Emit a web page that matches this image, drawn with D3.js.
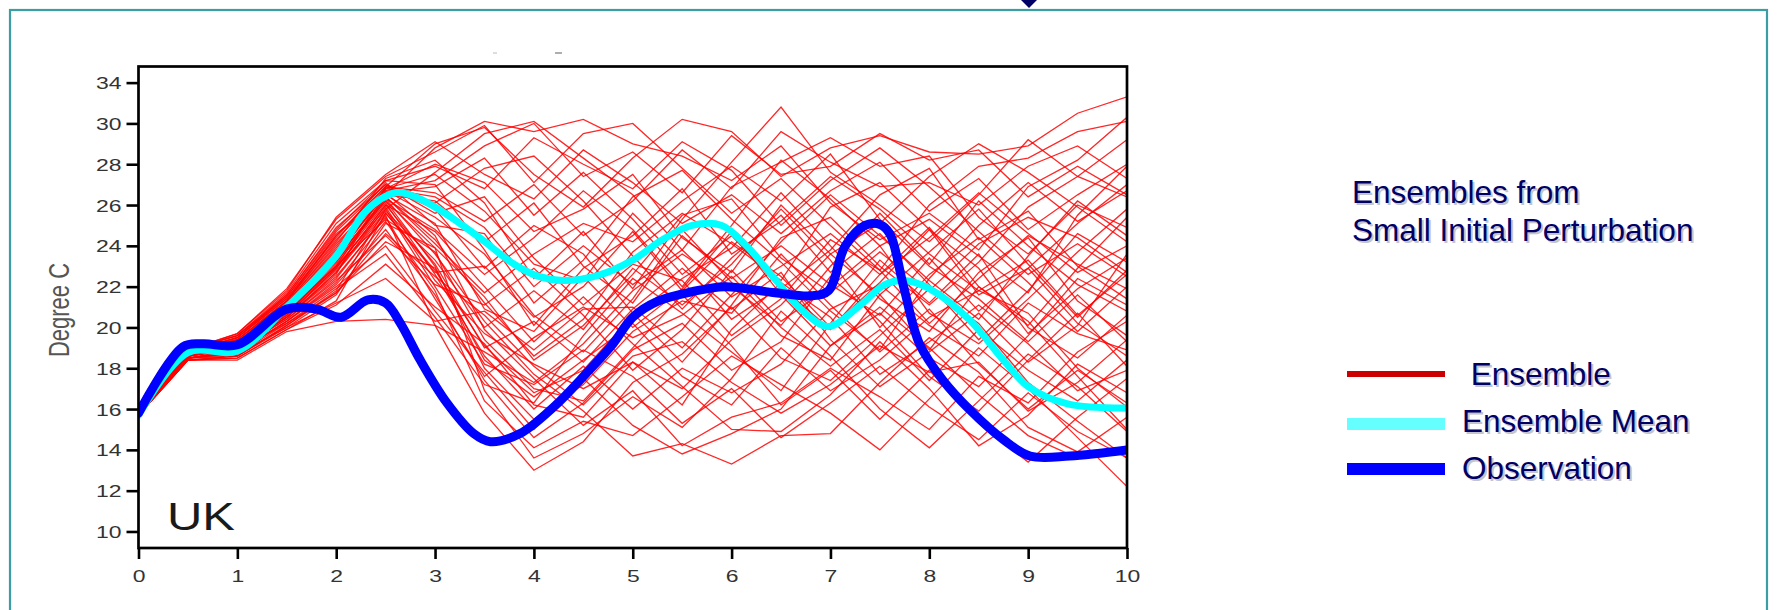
<!DOCTYPE html>
<html>
<head>
<meta charset="utf-8">
<script src="https://cdn.jsdelivr.net/npm/d3@7/dist/d3.min.js"></script>
<style>
  body { margin: 0; background: #fff; }
  svg { display: block; }
  text { white-space: pre; }
</style>
</head>
<body>
<div id="chart"></div>
<script>
// forecast steps, days
const steps = [0, 0.5, 1, 1.5, 2, 2.5, 3, 3.5, 4, 4.5, 5, 5.5, 6, 6.5, 7, 7.5, 8, 8.5, 9, 9.5, 10];

// ensemble members, one row per member (Degree C at each step)
const ensembleMembers = [
  [15.7, 18.8, 19.2, 20.8, 23.0, 26.5, 28.8, 30.1, 29.6, 30.2, 29.0, 28.4, 27.2, 28.9, 26.1, 24.3, 25.6, 23.8, 26.9, 28.2, 30.3],
  [15.7, 18.6, 18.9, 20.5, 22.6, 26.9, 29.0, 29.8, 27.5, 25.9, 28.3, 30.2, 29.6, 27.4, 28.8, 29.4, 28.6, 28.5, 28.9, 30.5, 31.3],
  [15.7, 18.7, 19.4, 21.3, 24.2, 27.3, 28.2, 26.1, 22.4, 24.7, 21.9, 25.3, 28.1, 30.8, 27.6, 26.0, 24.2, 26.5, 29.2, 27.4, 26.4],
  [15.7, 18.5, 18.6, 20.1, 21.8, 25.8, 27.6, 29.5, 30.1, 28.3, 26.5, 23.8, 26.9, 28.1, 29.3, 27.9, 28.4, 25.4, 23.6, 26.0, 24.9],
  [15.7, 18.9, 19.6, 21.5, 24.6, 26.4, 24.3, 21.2, 18.6, 20.4, 23.7, 25.6, 24.1, 22.3, 25.9, 27.1, 24.8, 21.6, 22.9, 25.1, 27.0],
  [15.7, 18.4, 18.5, 19.9, 21.3, 25.6, 22.8, 19.1, 16.8, 17.9, 20.6, 22.4, 23.9, 26.6, 24.0, 21.4, 19.8, 22.7, 24.4, 21.3, 19.6],
  [15.7, 18.7, 19.0, 20.7, 23.4, 26.2, 23.0, 18.0, 15.5, 17.2, 19.8, 21.3, 20.7, 23.6, 21.1, 18.8, 20.9, 18.2, 16.0, 17.9, 16.3],
  [15.7, 18.6, 19.3, 21.0, 23.7, 26.7, 25.4, 23.6, 20.6, 18.8, 21.4, 24.8, 22.2, 19.6, 18.4, 21.6, 23.7, 25.8, 23.1, 20.5, 22.8],
  [15.7, 18.8, 19.5, 21.6, 24.9, 27.0, 26.1, 27.8, 28.4, 26.2, 23.5, 20.9, 23.4, 25.5, 22.7, 24.6, 22.1, 19.4, 21.8, 24.6, 23.2],
  [15.7, 18.5, 18.8, 20.3, 22.1, 24.8, 21.6, 17.4, 14.6, 16.3, 18.9, 20.2, 17.9, 19.3, 22.5, 20.3, 17.6, 15.9, 18.4, 20.7, 18.1],
  [15.7, 18.9, 19.7, 21.9, 25.3, 27.4, 28.6, 29.9, 27.1, 29.5, 30.0, 27.8, 25.6, 27.3, 25.0, 22.8, 26.0, 27.9, 28.3, 29.6, 30.1],
  [15.7, 18.6, 19.1, 20.6, 22.9, 26.0, 24.7, 22.0, 19.3, 21.5, 19.2, 17.1, 15.0, 14.9, 16.7, 19.3, 17.0, 14.2, 15.7, 18.2, 16.8],
  [15.7, 18.7, 19.2, 20.9, 23.2, 26.3, 23.6, 20.3, 17.7, 15.9, 13.7, 14.3, 13.3, 14.7, 14.8, 17.3, 19.5, 17.8, 15.1, 13.9, 15.6],
  [15.7, 18.4, 18.6, 20.0, 21.6, 25.1, 23.9, 16.9, 13.6, 14.8, 16.6, 15.1, 17.5, 20.8, 18.6, 16.0, 14.1, 16.4, 18.7, 17.1, 14.9],
  [15.7, 18.8, 19.4, 21.2, 24.0, 26.8, 27.5, 25.7, 23.1, 22.3, 25.6, 23.2, 20.4, 22.0, 19.9, 22.6, 24.9, 22.0, 20.1, 22.9, 25.4],
  [15.7, 18.6, 19.0, 20.4, 22.4, 25.5, 20.1, 15.8, 13.0, 14.4, 17.3, 18.7, 21.0, 18.5, 17.4, 19.6, 21.9, 20.2, 17.3, 15.4, 13.6],
  [15.7, 18.5, 18.9, 20.2, 21.9, 23.6, 20.5, 17.2, 16.3, 19.6, 22.4, 20.7, 18.8, 16.9, 20.2, 23.3, 21.2, 23.6, 20.0, 18.5, 20.6],
  [15.7, 18.7, 19.3, 21.1, 23.8, 26.6, 26.9, 28.3, 25.5, 27.6, 25.3, 22.6, 24.5, 21.9, 23.8, 26.5, 27.8, 24.3, 25.7, 23.0, 21.4],
  [15.7, 18.8, 19.5, 21.4, 24.4, 27.1, 25.0, 24.6, 21.2, 23.3, 26.4, 27.7, 25.3, 23.2, 20.8, 18.9, 22.4, 25.0, 27.1, 25.2, 26.7],
  [15.7, 18.6, 19.0, 20.5, 22.7, 25.9, 22.3, 19.7, 18.2, 17.0, 18.3, 16.2, 19.9, 22.2, 20.5, 17.7, 19.3, 21.1, 19.2, 16.9, 17.9],
  [15.7, 18.5, 18.7, 20.0, 21.2, 22.4, 20.3, 20.8, 18.9, 20.9, 21.0, 19.0, 21.6, 24.2, 26.5, 24.5, 22.3, 20.4, 23.5, 26.2, 24.5],
  [15.7, 18.4, 18.4, 19.8, 20.3, 20.4, 20.1, 18.8, 17.3, 19.2, 21.8, 23.6, 22.0, 20.1, 23.0, 25.6, 23.1, 26.2, 24.0, 22.1, 20.8],
  [15.7, 18.9, 19.6, 21.7, 25.1, 27.2, 27.9, 26.8, 29.3, 28.0, 26.8, 29.1, 27.7, 25.0, 27.2, 28.8, 26.9, 24.7, 22.6, 24.1, 22.5],
  [15.7, 18.7, 19.2, 20.8, 23.3, 26.4, 24.1, 21.7, 23.6, 25.1, 24.2, 26.2, 27.9, 26.2, 28.5, 25.3, 23.0, 21.4, 19.3, 21.6, 19.3],
  [15.7, 18.6, 19.1, 20.7, 23.1, 26.1, 22.6, 18.6, 16.0, 18.1, 16.0, 18.0, 16.8, 18.2, 20.9, 22.1, 20.1, 18.6, 21.2, 19.7, 18.9],
  [15.7, 18.8, 19.4, 21.3, 24.5, 26.9, 25.8, 22.9, 25.0, 23.6, 20.7, 18.3, 21.1, 24.4, 25.4, 23.0, 21.1, 23.2, 25.9, 27.4, 29.2],
  [15.7, 18.5, 18.8, 20.3, 22.2, 25.2, 21.8, 16.4, 14.1, 15.4, 14.7, 16.6, 18.6, 17.2, 15.8, 14.0, 16.5, 19.0, 17.0, 14.6, 12.2],
  [15.7, 18.7, 19.3, 21.0, 23.6, 26.5, 25.1, 20.9, 19.8, 22.5, 20.0, 21.9, 24.7, 21.6, 19.1, 20.7, 18.5, 17.1, 19.6, 22.4, 21.1],
  [15.7, 18.6, 19.0, 20.6, 22.8, 25.7, 23.3, 20.0, 21.8, 19.9, 22.9, 21.1, 23.1, 25.8, 23.3, 20.0, 22.6, 24.4, 22.2, 19.8, 22.0],
  [15.7, 18.9, 19.7, 21.8, 25.4, 27.5, 29.1, 27.5, 26.3, 28.7, 27.1, 25.1, 26.5, 24.6, 26.7, 28.1, 25.7, 27.3, 24.8, 26.5, 28.0],
  [15.7, 18.7, 19.1, 20.7, 23.0, 25.3, 23.7, 19.4, 17.0, 16.4, 19.0, 21.6, 19.1, 16.2, 17.9, 15.5, 17.9, 15.3, 13.4, 15.6, 17.5],
  [15.7, 18.5, 18.9, 20.4, 22.3, 24.5, 22.1, 21.1, 22.9, 20.6, 17.9, 19.9, 22.8, 20.3, 22.0, 24.0, 20.7, 19.2, 21.4, 23.7, 25.8],
  [15.7, 18.8, 19.3, 21.1, 23.9, 26.8, 26.4, 24.9, 22.0, 24.0, 22.1, 23.8, 21.5, 23.0, 24.6, 22.6, 24.4, 26.6, 24.6, 22.7, 24.0],
  [15.7, 18.6, 19.2, 20.9, 23.5, 26.6, 24.5, 19.9, 17.5, 15.2, 16.9, 14.2, 15.6, 16.3, 18.0, 16.6, 15.0, 17.6, 16.3, 18.8, 20.3],
  [15.7, 18.4, 18.6, 20.1, 21.7, 24.2, 22.9, 18.4, 16.6, 18.4, 20.2, 17.6, 16.2, 19.0, 16.9, 18.4, 20.5, 21.8, 20.7, 18.0, 16.1],
  [15.7, 18.7, 19.3, 21.2, 24.1, 26.7, 27.2, 28.9, 30.0, 27.4, 28.6, 26.6, 29.4, 27.5, 27.9, 29.5, 28.2, 28.7, 26.4, 27.9, 26.5],
  [15.7, 18.8, 19.5, 21.5, 24.7, 27.0, 25.6, 26.4, 23.4, 21.1, 23.1, 22.3, 19.6, 21.4, 24.3, 22.8, 20.2, 22.4, 24.5, 23.1, 21.9],
  [15.7, 18.6, 19.1, 20.6, 22.9, 26.0, 23.1, 19.0, 20.3, 18.3, 20.9, 22.9, 20.9, 22.7, 19.4, 17.1, 18.8, 20.7, 18.3, 20.1, 23.6],
  [15.7, 18.5, 18.8, 20.3, 22.0, 24.0, 20.8, 17.8, 15.0, 17.5, 15.2, 13.8, 14.8, 16.0, 19.1, 21.0, 19.0, 16.7, 14.7, 13.6, 13.9],
  [15.7, 18.7, 19.2, 20.9, 23.4, 26.3, 24.8, 22.6, 24.4, 26.7, 24.8, 22.0, 25.0, 28.2, 26.3, 24.0, 25.3, 23.5, 21.7, 25.5, 27.9],
  [15.7, 18.9, 19.6, 21.6, 24.8, 27.2, 27.0, 23.8, 20.1, 22.9, 24.5, 26.8, 23.6, 25.2, 27.4, 25.8, 23.6, 21.8, 23.3, 20.6, 22.6],
  [15.7, 18.6, 19.0, 20.5, 22.5, 25.4, 21.4, 17.6, 19.5, 21.0, 19.5, 20.6, 22.5, 20.0, 18.1, 19.9, 17.4, 19.9, 17.9, 16.4, 18.4],
  [15.7, 18.8, 19.4, 21.3, 24.3, 26.8, 28.0, 27.1, 24.7, 25.8, 27.5, 24.4, 22.7, 26.0, 23.6, 25.1, 27.4, 29.0, 27.6, 25.9, 24.2],
  [15.7, 18.5, 18.7, 20.2, 21.7, 24.6, 22.5, 20.6, 18.1, 16.2, 18.6, 19.3, 17.3, 15.8, 17.2, 19.1, 17.8, 18.3, 15.9, 17.3, 19.4],
  [15.7, 18.7, 19.2, 20.8, 23.2, 26.2, 23.9, 21.5, 18.4, 20.1, 22.6, 25.5, 26.3, 23.4, 21.7, 23.7, 21.8, 24.1, 25.4, 24.4, 22.7],
  [15.7, 18.6, 19.1, 20.7, 23.0, 25.8, 22.0, 18.2, 17.2, 18.9, 17.6, 15.3, 17.0, 14.6, 16.3, 18.1, 16.1, 14.5, 16.8, 14.9, 13.6],
  [15.7, 18.8, 19.5, 21.4, 24.5, 26.9, 26.6, 25.2, 27.0, 24.5, 26.2, 28.7, 26.8, 29.6, 28.1, 26.9, 27.1, 26.0, 27.9, 28.9, 27.3],
  [15.7, 18.4, 18.5, 19.9, 21.1, 23.1, 21.0, 19.2, 16.2, 15.6, 18.3, 17.0, 19.4, 21.1, 23.6, 21.6, 18.9, 22.0, 20.3, 17.6, 15.0],
  [15.7, 18.7, 19.3, 21.0, 23.5, 26.5, 26.2, 24.2, 26.1, 23.0, 21.2, 24.5, 22.4, 24.0, 22.1, 20.6, 23.4, 20.8, 22.9, 20.2, 18.6],
  [15.7, 18.6, 19.0, 20.5, 22.7, 25.6, 22.7, 23.0, 20.5, 22.0, 24.7, 21.8, 24.2, 22.5, 20.0, 22.2, 24.8, 22.9, 19.7, 21.9, 23.4]
];

// ensemble mean (cyan)
const meanDays  = [0, 0.5, 1.0, 1.5, 2.0, 2.3, 2.6, 2.8, 3.1, 3.45, 3.8, 4.05, 4.3, 4.65, 5.0, 5.3, 5.6, 5.9, 6.15, 6.45, 6.7, 6.98, 7.28, 7.55, 7.75, 8.0, 8.4, 8.75, 9.0, 9.4, 10];
const meanTemps = [15.7, 18.77, 18.85, 21.0, 23.5, 25.7, 26.6, 26.4, 25.6, 24.4, 23.1, 22.5, 22.3, 22.55, 23.3, 24.3, 25.0, 25.0, 24.0, 22.3, 20.9, 20.05, 21.0, 22.1, 22.3, 21.9, 20.4, 18.4, 17.1, 16.25, 16.05];

// observation (blue)
const obsDays  = [0, 0.45, 0.65, 1.0, 1.5, 1.8, 2.05, 2.32, 2.5, 2.65, 2.85, 3.12, 3.39, 3.56, 3.86, 4.2, 4.53, 4.8, 5.0, 5.26, 5.6, 5.93, 6.44, 6.81, 6.98, 7.15, 7.35, 7.5, 7.6, 7.74, 7.9, 8.14, 8.41, 8.75, 9.02, 9.42, 10];
const obsTemps = [15.8, 19.05, 19.2, 19.15, 20.9, 20.9, 20.5, 21.35, 21.2, 20.2, 18.4, 16.3, 14.8, 14.4, 14.8, 16.1, 17.75, 19.2, 20.5, 21.3, 21.75, 22.0, 21.7, 21.55, 21.8, 24.0, 25.0, 25.05, 24.6, 22.0, 19.2, 17.4, 15.96, 14.5, 13.7, 13.7, 14.0];

const xTickValues = [0, 1, 2, 3, 4, 5, 6, 7, 8, 9, 10];
const yTickValues = [10, 12, 14, 16, 18, 20, 22, 24, 26, 28, 30, 32];
const yTickLabels = ["10", "12", "14", "16", "18", "20", "22", "24", "26", "28", "30", "34"];

const titleLines = ["Ensembles from", "Small Initial Perturbation"];
const legendLabels = [" Ensemble", "Ensemble Mean", "Observation"];
const legendColors = ["#cc0000", "#66ffff", "#0000ff"];

(function() {
  const W = 1778, H = 610;
  const plot = { left: 138.5, right: 1127, top: 66.5, bottom: 548 };
  const stretch = 1.35; // chart image text looks widened

  const svg = d3.select("#chart").append("svg")
    .attr("width", W).attr("height", H)
    .style("font-family", "'Liberation Sans', Arial, sans-serif");

  // slide frame
  svg.append("rect")
    .attr("x", 10).attr("y", 10)
    .attr("width", W - 21).attr("height", 700)
    .attr("fill", "none")
    .attr("stroke", "#3a9ea2")
    .attr("stroke-width", 2.2);

  svg.append("path")
    .attr("d", "M1021,0 L1037,0 L1029,8 Z")
    .attr("fill", "#000066");

  // leftovers of a title above the plot
  svg.append("line").attr("x1", 493).attr("x2", 497).attr("y1", 53).attr("y2", 53)
    .attr("stroke", "#bbb").attr("stroke-width", 1);
  svg.append("line").attr("x1", 555).attr("x2", 562).attr("y1", 53).attr("y2", 53)
    .attr("stroke", "#777").attr("stroke-width", 1.2);

  const x = d3.scaleLinear().domain([0, 10]).range([plot.left, plot.right]);
  const y = d3.scaleLinear().domain([9.19, 32.79]).range([plot.bottom, plot.top]);

  svg.append("clipPath").attr("id", "clip")
    .append("rect")
    .attr("x", plot.left).attr("y", plot.top)
    .attr("width", plot.right - plot.left).attr("height", plot.bottom - plot.top);

  const g = svg.append("g").attr("clip-path", "url(#clip)");

  const redLine = d3.line()
    .x((d, i) => x(steps[i]))
    .y(d => y(d));

  g.selectAll(".member")
    .data(ensembleMembers)
    .enter().append("path")
    .attr("class", "member")
    .attr("d", redLine)
    .attr("fill", "none")
    .attr("stroke", "#ff0000")
    .attr("stroke-opacity", 0.85)
    .attr("stroke-width", 1.3);

  const smooth = d3.line()
    .x(d => x(d[0]))
    .y(d => y(d[1]))
    .curve(d3.curveCatmullRom.alpha(0.5));

  g.append("path")
    .attr("d", smooth(d3.zip(meanDays, meanTemps)))
    .attr("fill", "none")
    .attr("stroke", "#00ffff")
    .attr("stroke-width", 7)
    .attr("stroke-linecap", "round");

  g.append("path")
    .attr("d", smooth(d3.zip(obsDays, obsTemps)))
    .attr("fill", "none")
    .attr("stroke", "#0000ff")
    .attr("stroke-width", 9)
    .attr("stroke-linecap", "round");

  // axes
  const yAxis = d3.axisLeft(y)
    .tickValues(yTickValues)
    .tickFormat((d, i) => yTickLabels[i])
    .tickSize(12);

  const yG = svg.append("g")
    .attr("transform", "translate(" + plot.left + ",0)")
    .call(yAxis);
  yG.select(".domain").remove();
  yG.selectAll(".tick line").attr("stroke", "#000").attr("stroke-width", 2.6);
  yG.selectAll(".tick text")
    .attr("x", null).attr("dy", null)
    .attr("transform", "translate(-17,6) scale(" + stretch + ",1)")
    .attr("font-size", 17)
    .attr("font-family", "'Liberation Sans', Arial, sans-serif")
    .attr("fill", "#333");

  const xAxis = d3.axisBottom(x)
    .tickValues(xTickValues)
    .tickFormat(d3.format("d"))
    .tickSize(11);

  const xG = svg.append("g")
    .attr("transform", "translate(0," + plot.bottom + ")")
    .call(xAxis);
  xG.select(".domain").remove();
  xG.selectAll(".tick line").attr("stroke", "#000").attr("stroke-width", 2.6);
  xG.selectAll(".tick text")
    .attr("y", null).attr("dy", null)
    .attr("transform", "translate(0,34) scale(" + stretch + ",1)")
    .attr("font-size", 17)
    .attr("font-family", "'Liberation Sans', Arial, sans-serif")
    .attr("fill", "#333");

  svg.append("rect")
    .attr("x", plot.left).attr("y", plot.top)
    .attr("width", plot.right - plot.left).attr("height", plot.bottom - plot.top)
    .attr("fill", "none")
    .attr("stroke", "#000")
    .attr("stroke-width", 2.7);

  svg.append("text")
    .attr("transform", "translate(59,310) scale(" + stretch + ",1) rotate(-90)")
    .attr("text-anchor", "middle")
    .attr("dominant-baseline", "central")
    .attr("font-size", 22)
    .attr("fill", "#555")
    .text("Degree C");

  svg.append("text")
    .attr("transform", "translate(167,530) scale(1.24,1)")
    .attr("font-size", 39.5)
    .attr("fill", "#1a1a1a")
    .text("UK");

  // legend / notes on the right
  function shadowText(tx, ty, str) {
    svg.append("text").attr("x", tx + 2).attr("y", ty + 2)
      .attr("font-size", 31.5).attr("fill", "#c4c4cc").text(str);
    svg.append("text").attr("x", tx).attr("y", ty)
      .attr("font-size", 31.5).attr("fill", "#000066").text(str);
  }

  titleLines.forEach(function(t, i) {
    shadowText(1352, 203 + i * 37.5, t);
  });

  const legendY = [374, 424, 469];
  const legendW = [6, 12, 12];
  const legendTextY = [385, 432, 479];

  legendLabels.forEach(function(lbl, i) {
    svg.append("line")
      .attr("x1", 1347).attr("x2", 1445)
      .attr("y1", legendY[i]).attr("y2", legendY[i])
      .attr("stroke", legendColors[i])
      .attr("stroke-width", legendW[i]);
    shadowText(1462, legendTextY[i], lbl);
  });
})();
</script>
</body>
</html>
